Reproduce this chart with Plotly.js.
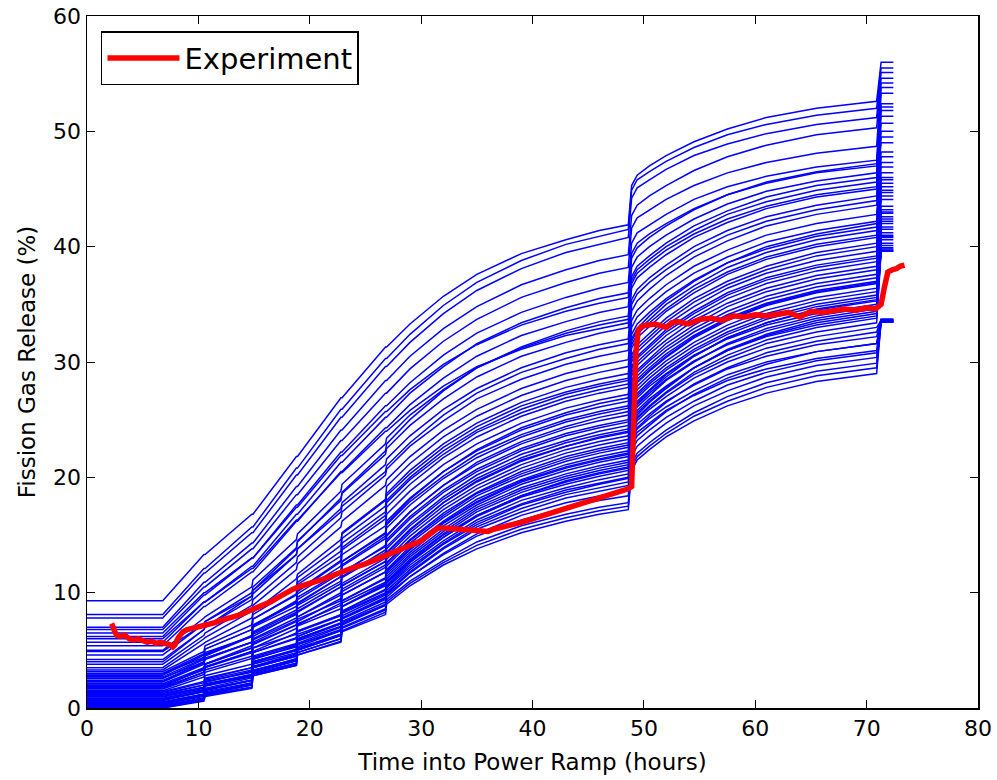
<!DOCTYPE html>
<html>
<head>
<meta charset="utf-8">
<script src="https://cdn.plot.ly/plotly-3.0.1.min.js"></script>
<style>
  html, body { margin: 0; padding: 0; background: #ffffff; }
  #chart { width: 997px; height: 780px; }
</style>
</head>
<body>
<div id="chart"></div>
<script>
// Time grid (hours) shared by the simulated runs
const hours = [0, 6.8, 10.5, 10.6, 14.8, 14.9, 18.8, 18.9, 22.8, 22.9, 26.8, 26.9,
  29, 32, 35, 39, 43, 46, 48.6, 48.9, 49.4, 50.5, 52, 54.5, 57.5, 61, 65.5, 70.9, 71.3, 72.4];

// Simulated fission gas release (%) for each run
const runA = [9.3,9.3,13.3,13.3,16.8,16.8,21.8,21.8,26.9,26.9,31.3,31.3,33.3,35.7,37.6,39.4,40.6,41.4,41.9,45.3,46.2,47.0,47.9,49.1,50.2,51.2,52.0,52.6,56.0,56.0];
const runB = [8.1,8.1,12.1,12.1,15.7,15.7,20.8,20.8,25.9,25.9,30.3,30.3,32.4,34.9,36.9,38.8,40.2,40.9,41.5,44.9,45.8,46.5,47.4,48.6,49.7,50.6,51.4,52.0,55.5,55.5];
const runC = [7.8,7.8,11.7,11.7,15.2,15.2,20.2,20.2,25.2,25.2,29.6,29.6,31.7,34.2,36.2,38.1,39.5,40.2,40.8,44.2,45.1,45.8,46.7,47.9,48.9,49.8,50.6,51.2,55.1,55.1];
const runD = [7.0,7.0,10.9,10.9,14.3,14.3,19.2,19.2,24.1,24.1,28.4,28.4,30.5,32.9,34.8,36.7,38.0,38.8,39.3,42.7,43.6,44.4,45.3,46.6,47.8,48.8,49.7,50.3,54.6,54.6];
const runE = [6.8,6.8,10.5,10.5,13.8,13.8,18.5,18.5,23.2,23.2,27.3,27.3,29.4,31.8,33.7,35.6,36.9,37.7,38.2,41.6,42.5,43.2,44.1,45.3,46.4,47.3,48.1,48.7,54.2,54.2];
const runF = [6.2,6.2,9.8,9.8,13.0,13.0,17.6,17.6,22.2,22.2,26.2,26.2,28.2,30.6,32.5,34.3,35.6,36.4,36.9,40.3,41.2,41.9,42.8,44.1,45.2,46.1,46.9,47.5,53.3,53.3];
const runG = [5.7,5.7,9.2,9.2,12.3,12.3,16.8,16.8,21.3,21.3,25.2,25.2,27.3,29.6,31.6,33.4,34.7,35.5,36.0,39.4,40.3,41.1,42.0,43.3,44.5,45.5,46.4,47.0,52.1,52.1];
const runH = [5.4,5.4,8.8,8.8,11.8,11.8,16.2,16.2,20.5,20.5,24.3,24.3,26.3,28.6,30.5,32.3,33.5,34.3,34.8,38.2,39.1,40.0,41.0,42.4,43.7,44.8,45.7,46.4,53.8,53.8];
const runI = [5.0,5.0,7.8,7.9,10.5,11.1,14.6,15.1,18.8,19.4,22.9,23.4,25.4,27.6,29.5,31.2,32.5,33.2,33.7,37.1,38.0,38.9,40.0,41.4,42.8,43.9,44.9,45.6,51.3,51.3];
const runJ = [4.6,4.6,7.3,7.5,10.0,10.5,13.9,14.5,18.0,18.6,22.0,22.5,24.5,26.8,28.7,30.5,31.7,32.5,33.0,36.4,37.3,38.2,39.3,40.8,42.1,43.3,44.3,45.0,50.7,50.7];
const runK = [4.2,4.2,6.8,7.0,9.4,9.9,13.3,13.8,17.3,17.8,21.1,21.6,23.6,25.9,27.7,29.5,30.8,31.5,32.0,35.4,36.3,37.3,38.4,40.0,41.4,42.6,43.6,44.4,49.5,49.5];
const runL = [3.8,3.8,6.3,6.5,8.9,9.4,12.6,13.1,16.5,17.0,20.2,20.7,22.7,24.9,26.8,28.5,29.8,30.5,31.0,34.4,35.3,36.3,37.5,39.1,40.5,41.8,42.8,43.6,48.2,48.2];
const runM = [3.5,3.5,6.0,6.1,8.4,8.9,12.0,12.5,15.7,16.2,19.3,19.8,21.8,24.1,25.9,27.7,29.0,29.7,30.2,33.6,34.5,35.5,36.7,38.3,39.7,41.0,42.0,42.8,47.3,47.3];
const runN1 = [3.15,3.15,4.9,5.4,7.2,8.1,10.4,11.3,14.1,15.2,18.1,19.2,21.2,23.5,25.3,27.1,28.4,29.1,29.6,33.0,33.9,34.9,36.1,37.7,39.1,40.4,41.4,42.2,46.9,46.9];
const runN2 = [3.0,3.0,4.7,5.1,6.8,7.7,9.8,10.7,13.2,14.3,17.0,18.0,20.0,22.3,24.1,25.9,27.2,27.9,28.4,31.8,32.7,33.7,35.0,36.6,38.2,39.5,40.6,41.4,45.8,45.8];
const runN3 = [2.85,2.85,4.6,5.1,6.8,7.7,9.9,10.9,13.6,14.7,17.5,18.6,20.6,22.9,24.7,26.5,27.8,28.5,29.0,32.4,33.3,34.3,35.5,37.1,38.6,39.8,40.9,41.7,46.4,46.4];
const runN4 = [2.7,2.7,4.3,4.7,6.2,7.1,9.1,9.9,12.3,13.3,15.8,16.8,18.8,21.1,22.9,24.7,26.0,26.7,27.2,30.6,31.5,32.5,33.8,35.5,37.0,38.3,39.5,40.3,45.2,45.2];
const runN5 = [2.55,2.55,4.2,4.6,6.3,7.2,9.2,10.1,12.7,13.7,16.4,17.4,19.4,21.7,23.5,25.3,26.6,27.3,27.8,31.2,32.1,33.1,34.4,36.0,37.6,38.9,40.0,40.8,44.7,44.7];
const runN6 = [2.4,2.4,3.9,4.3,5.7,6.5,8.3,9.1,11.4,12.3,14.7,15.6,17.6,19.9,21.7,23.5,24.8,25.5,26.0,29.4,30.3,31.3,32.6,34.2,35.8,37.1,38.2,39.0,44.1,44.1];
const runN7 = [2.25,2.25,3.8,4.2,5.7,6.6,8.5,9.4,11.7,12.7,15.2,16.2,18.2,20.5,22.3,24.1,25.4,26.1,26.6,30.0,30.9,31.9,33.2,34.8,36.4,37.7,38.8,39.6,43.5,43.5];
const runN8 = [2.1,2.1,3.5,3.8,5.2,5.9,7.6,8.4,10.5,11.3,13.5,14.4,16.4,18.7,20.5,22.3,23.6,24.3,24.8,28.2,29.1,30.1,31.3,32.9,34.4,35.7,36.8,37.6,42.6,42.6];
const runN9 = [1.95,1.95,3.4,3.8,5.2,6.0,7.8,8.6,10.8,11.7,14.1,15.0,17.0,19.3,21.1,22.9,24.2,24.9,25.4,28.8,29.7,30.7,31.9,33.6,35.1,36.4,37.5,38.3,43.2,43.2];
const runN10 = [1.8,1.8,3.1,3.5,4.8,5.5,7.2,7.9,10.0,10.8,13.0,13.8,15.8,18.1,19.9,21.7,23.0,23.7,24.2,27.6,28.5,29.5,30.7,32.3,33.8,35.1,36.2,37.0,42.2,42.2];
const runN11 = [1.65,1.65,2.9,3.3,4.5,5.2,6.9,7.5,9.5,10.3,12.4,13.2,15.2,17.5,19.3,21.1,22.4,23.1,23.6,27.0,27.9,28.9,30.1,31.7,33.2,34.5,35.6,36.4,41.7,41.7];
const runN12 = [1.5,1.5,2.7,3.1,4.3,4.9,6.5,7.2,9.1,9.8,11.8,12.6,14.6,16.9,18.7,20.5,21.8,22.5,23.0,26.4,27.3,28.3,29.5,31.1,32.6,33.9,35.0,35.8,41.2,41.2];
const runN13 = [1.4,1.4,2.3,2.8,3.8,5.2,6.4,7.7,9.3,10.6,12.7,14.0,16.0,18.3,20.2,22.0,23.2,24.0,24.5,27.9,28.8,29.8,31.0,32.6,34.1,35.4,36.5,37.3,40.3,40.3];
const runN14 = [1.25,1.25,2.0,2.4,3.3,4.5,5.6,6.6,8.0,9.1,10.9,12.0,14.0,16.2,18.1,19.8,21.1,21.8,22.3,25.7,26.6,27.6,28.9,30.5,32.1,33.4,34.5,35.3,40.6,40.6];
const runN15 = [1.1,1.1,1.8,2.3,3.1,4.3,5.3,6.4,7.7,8.8,10.6,11.6,13.5,15.8,17.6,19.4,20.6,21.3,21.8,25.2,26.1,27.1,28.4,30.0,31.6,32.9,34.0,34.8,39.6,39.6];
const runN16 = [1.0,1.0,1.8,2.2,3.2,4.4,5.5,6.7,8.1,9.3,11.2,12.3,14.3,16.5,18.4,20.1,21.4,22.1,22.6,26.0,26.9,27.9,29.0,30.6,32.0,33.2,34.2,35.0,42.0,42.0];
const runN17 = [0.85,0.85,1.6,2.0,2.8,4.0,5.0,6.0,7.4,8.4,10.2,11.2,13.1,15.3,17.2,18.9,20.1,20.8,21.3,24.7,25.6,26.6,27.8,29.5,31.0,32.3,33.4,34.2,39.8,39.8];
const runN18 = [0.75,0.75,1.5,1.9,2.7,3.8,4.8,5.8,7.1,8.2,9.9,10.9,12.8,15.0,16.7,18.4,19.6,20.3,20.8,24.2,25.1,26.1,27.3,28.9,30.3,31.6,32.6,33.4,39.6,39.6];
const runN19 = [0.65,0.65,1.4,1.9,2.8,4.0,5.1,6.2,7.7,8.8,10.7,11.8,13.7,16.0,17.8,19.6,20.8,21.5,22.0,25.4,26.3,27.3,28.5,30.1,31.5,32.7,33.8,34.6,40.9,40.9];
const runN20 = [0.55,0.55,1.2,1.6,2.4,3.5,4.5,5.5,6.8,7.8,9.5,10.5,12.4,14.5,16.3,18.0,19.1,19.8,20.3,23.7,24.6,25.5,26.6,28.0,29.4,30.5,31.5,32.2,33.7,33.7];
const runN21 = [0.45,0.45,1.2,1.6,2.4,3.6,4.6,5.6,7.0,8.0,9.8,10.8,12.7,14.8,16.6,18.3,19.4,20.1,20.6,24.0,24.9,25.9,27.0,28.6,30.0,31.2,32.2,33.0,33.6,33.6];
const runN22 = [0.35,0.35,1.0,1.4,2.2,3.3,4.2,5.2,6.4,7.4,9.0,10.0,11.8,13.9,15.7,17.3,18.5,19.1,19.6,23.0,23.9,24.7,25.8,27.1,28.4,29.4,30.3,31.0,33.6,33.6];
const runN23 = [0.25,0.25,0.9,1.3,2.1,3.1,4.1,5.0,6.3,7.2,8.9,9.8,11.4,13.3,14.9,16.3,17.4,18.0,18.4,21.8,22.7,23.6,24.7,26.2,27.5,28.7,29.7,30.4,33.5,33.5];
const runN24 = [0.2,0.2,0.8,1.2,2.0,3.0,3.9,4.8,6.0,6.9,8.5,9.4,11.0,12.8,14.4,15.8,16.8,17.4,17.8,21.2,22.1,23.0,24.1,25.6,27.0,28.2,29.2,29.9,33.5,33.5];
const runN25 = [0.1,0.1,0.7,1.1,1.8,2.8,3.7,4.6,5.7,6.6,8.1,9.0,10.6,12.4,13.8,15.2,16.2,16.8,17.2,20.6,21.5,22.4,23.5,24.9,26.2,27.3,28.3,29.0,33.5,33.5];
const runN26 = [0.05,0.05,0.8,1.2,2.0,3.1,4.1,5.1,6.4,7.5,9.2,10.2,12.0,14.2,15.9,17.6,18.7,19.4,19.9,23.3,24.2,25.1,26.1,27.5,28.9,30.0,30.9,31.6,33.6,33.6];
const runN27 = [0.0,0.0,0.7,1.1,1.8,2.9,3.8,4.8,6.0,7.0,8.6,9.6,11.4,13.4,15.1,16.7,17.8,18.4,18.9,22.3,23.2,24.1,25.2,26.6,28.0,29.1,30.1,30.8,33.5,33.5];
const runN28 = [0.3,0.3,1.1,1.5,2.4,3.6,4.7,5.9,7.3,8.4,10.3,11.4,13.3,15.5,17.4,19.1,20.3,21.0,21.5,24.9,25.8,26.8,27.9,29.5,31.0,32.2,33.2,34.0,39.7,39.7];
const runP1 = [4.9,4.9,7.3,7.5,9.7,10.2,13.3,13.8,17.0,17.5,20.5,21.0,23.0,25.4,27.3,29.1,30.3,31.1,31.6,35.0,35.9,36.9,38.0,39.6,41.0,42.2,43.2,44.0,50.0,50.0];
const runP2 = [4.0,4.0,6.8,7.0,9.7,10.2,13.8,14.4,18.2,18.7,22.3,22.9,25.0,27.5,29.5,31.3,32.7,33.5,34.0,37.4,38.3,39.2,40.3,41.8,43.1,44.3,45.3,46.0,52.4,52.4];
const runP3 = [6.0,6.0,9.2,9.2,12.1,12.1,16.3,16.3,20.4,20.4,24.0,24.0,25.8,27.9,29.6,31.1,32.3,32.9,33.4,36.8,37.7,38.6,39.7,41.1,42.4,43.5,44.5,45.2,49.0,49.0];
const runP4 = [3.3,3.3,5.6,5.7,7.8,8.3,11.2,11.6,14.6,15.1,18.0,18.4,20.3,22.6,24.4,26.2,27.4,28.1,28.6,32.0,32.9,34.0,35.3,37.0,38.6,40.0,41.1,42.0,47.8,47.8];
const runP5 = [2.95,2.95,4.4,4.8,6.2,7.0,8.8,9.6,11.8,12.7,15.1,16.0,18.1,20.5,22.4,24.3,25.6,26.4,26.9,30.3,31.2,32.2,33.5,35.2,36.7,38.0,39.2,40.0,45.5,45.5];
const runP6 = [2.6,2.6,4.0,4.3,5.7,6.4,8.1,8.9,11.0,11.8,14.0,14.9,17.0,19.3,21.3,23.1,24.4,25.2,25.7,29.1,30.0,31.0,32.3,33.9,35.5,36.8,37.9,38.7,42.9,42.9];
const runP7 = [2.3,2.3,4.0,4.5,6.2,7.1,9.3,10.2,12.8,13.9,16.7,17.8,19.8,22.0,23.9,25.6,26.9,27.6,28.1,31.5,32.4,33.4,34.6,36.3,37.8,39.1,40.2,41.0,46.0,46.0];
const runP8 = [2.0,2.0,3.3,3.6,4.9,5.6,7.2,7.9,9.8,10.6,12.7,13.5,15.5,17.8,19.6,21.4,22.7,23.4,23.9,27.3,28.2,29.2,30.4,32.1,33.6,34.9,36.0,36.8,41.5,41.5];
const runP9 = [1.7,1.7,3.1,3.5,4.9,5.7,7.5,8.3,10.5,11.4,13.7,14.6,16.6,18.9,20.7,22.5,23.8,24.5,25.0,28.4,29.3,30.3,31.6,33.2,34.8,36.1,37.2,38.0,44.4,44.4];
const runP10 = [1.35,1.35,2.2,2.6,3.5,4.8,6.0,7.1,8.6,9.8,11.8,12.9,14.9,17.2,19.0,20.8,22.1,22.8,23.3,26.7,27.6,28.6,29.8,31.4,32.9,34.2,35.3,36.1,41.0,41.0];
const runP11 = [1.15,1.15,2.0,2.5,3.5,4.8,6.1,7.3,8.9,10.1,12.2,13.4,15.4,17.8,19.7,21.5,22.7,23.5,24.0,27.4,28.3,29.3,30.5,32.2,33.7,35.0,36.1,36.9,43.0,43.0];
const runP12 = [0.95,0.95,1.7,2.1,2.9,4.0,5.0,6.0,7.3,8.3,10.0,11.0,12.9,15.1,17.0,18.7,19.9,20.6,21.1,24.5,25.4,26.5,27.7,29.5,31.1,32.4,33.6,34.4,40.1,40.1];
const runP13 = [0.7,0.7,1.5,2.0,2.9,4.2,5.4,6.6,8.1,9.3,11.3,12.5,14.5,16.7,18.6,20.3,21.6,22.3,22.8,26.2,27.1,28.1,29.3,30.9,32.4,33.7,34.8,35.6,42.4,42.4];
const runP14 = [0.5,0.5,1.2,1.6,2.4,3.5,4.5,5.5,6.7,7.7,9.4,10.4,12.2,14.3,16.1,17.7,18.9,19.5,20.0,23.4,24.3,25.3,26.5,28.1,29.5,30.8,31.8,32.6,33.7,33.7];
const runP15 = [0.4,0.4,1.2,1.7,2.6,3.9,5.0,6.2,7.7,8.8,10.8,11.9,13.8,16.1,17.9,19.7,20.9,21.6,22.1,25.5,26.4,27.5,28.7,30.5,32.1,33.4,34.6,35.4,40.8,40.8];
const runP16 = [0.15,0.15,0.8,1.2,2.0,3.1,4.1,5.0,6.3,7.3,8.9,9.9,11.7,13.8,15.5,17.0,18.2,18.8,19.3,22.7,23.6,24.5,25.7,27.2,28.6,29.8,30.9,31.6,33.6,33.6];
const runP17 = [0.0,0.0,0.6,1.0,1.7,2.8,3.7,4.6,5.8,6.7,8.3,9.2,10.8,12.6,14.1,15.5,16.5,17.1,17.5,20.9,21.8,22.7,23.8,25.3,26.6,27.8,28.8,29.5,33.5,33.5];
const runP18 = [0.08,0.08,0.8,1.2,2.1,3.2,4.3,5.3,6.7,7.8,9.6,10.6,12.6,14.8,16.7,18.4,19.7,20.4,20.9,24.3,25.2,26.2,27.4,29.1,30.6,31.9,33.0,33.8,39.9,39.9];
const runP19 = [1.85,1.85,3.4,3.8,5.4,6.2,8.2,9.0,11.4,12.4,14.9,15.9,17.9,20.1,22.0,23.7,25.0,25.7,26.2,29.6,30.5,31.5,32.8,34.4,36.0,37.3,38.4,39.2,44.9,44.9];
const runP20 = [6.5,6.5,10.0,10.0,13.0,13.0,17.4,17.4,21.9,21.9,25.7,25.7,27.6,29.8,31.5,33.2,34.4,35.1,35.6,39.0,39.9,40.8,41.8,43.2,44.5,45.6,46.5,47.2,51.8,51.8];

const simulationRuns = [runA, runB, runC, runD, runE, runF, runG, runH, runI, runJ, runK, runL, runM,
  runN1, runN2, runN3, runN4, runN5, runN6, runN7, runN8, runN9, runN10, runN11, runN12, runN13, runN14,
  runN15, runN16, runN17, runN18, runN19, runN20, runN21, runN22, runN23, runN24, runN25, runN26, runN27, runN28,
  runP1, runP2, runP3, runP4, runP5, runP6, runP7, runP8, runP9, runP10, runP11, runP12, runP13, runP14,
  runP15, runP16, runP17, runP18, runP19, runP20];

// Experimental measurement
const expHours = [2.1,2.3,2.5,2.7,3.0,3.4,3.8,4.2,4.6,5.0,5.4,5.8,6.2,6.6,7.0,7.4,7.7,7.9,8.2,8.6,9.0,9.5,10.0,10.5,11.0,11.5,12.0,12.5,13.0,13.5,14.0,14.5,15.0,15.5,16.0,16.5,17.0,17.5,18.0,18.5,19.0,19.5,20.0,21.0,22.0,23.0,24.0,25.0,26.0,27.0,28.0,29.0,30.0,30.5,31.0,31.5,32.0,33.0,34.0,35.0,36.0,36.5,37.0,38.0,39.0,40.0,41.0,42.0,43.0,44.0,45.0,46.0,47.0,48.0,48.6,48.9,49.1,49.3,49.5,49.8,50.3,51.0,52.0,52.5,53.0,54.0,55.0,56.0,57.0,58.0,59.0,60.0,61.0,62.0,63.0,64.0,65.0,66.0,67.0,68.0,69.0,70.0,70.8,71.3,71.6,71.9,72.3,72.7,73.0,73.4];
const expFGR = [7.0,7.1,6.6,6.3,6.2,6.3,6.0,5.9,6.0,5.8,5.7,5.8,5.6,5.7,5.6,5.5,5.3,5.5,6.1,6.6,6.8,6.9,7.0,7.1,7.3,7.4,7.6,7.7,7.9,8.0,8.2,8.4,8.5,8.7,8.9,9.2,9.5,9.8,10.1,10.3,10.5,10.6,10.8,11.1,11.5,11.8,12.2,12.5,12.9,13.2,13.6,14.0,14.5,14.9,15.3,15.6,15.6,15.5,15.5,15.4,15.3,15.5,15.6,15.8,16.1,16.4,16.7,17.0,17.3,17.6,17.9,18.3,18.5,18.8,19.0,19.2,25.0,31.0,32.8,33.1,33.2,33.3,33.0,33.4,33.5,33.3,33.7,33.8,33.6,34.0,33.9,34.1,34.0,34.2,34.3,33.9,34.4,34.3,34.5,34.6,34.5,34.7,34.6,35.0,36.5,37.8,38.0,38.1,38.3,38.4];

const xTicks = [0, 10, 20, 30, 40, 50, 60, 70, 80];
const yTicks = [0, 10, 20, 30, 40, 50, 60];

const traces = simulationRuns.map(function (run) {
  return {
    x: hours, y: run, type: 'scatter', mode: 'lines',
    line: { color: '#0000ff', width: 1.5 },
    showlegend: false, hoverinfo: 'skip'
  };
});
traces.push({
  x: expHours, y: expFGR, type: 'scatter', mode: 'lines', name: 'Experiment',
  line: { color: '#ff0000', width: 5.5 }
});

const fontFamily = 'DejaVu Sans, Verdana, sans-serif';
const axisCommon = {
  showgrid: false, zeroline: false, showline: true, linecolor: '#000000', linewidth: 1.5,
  mirror: 'ticks', ticks: 'inside', ticklen: 8, tickwidth: 1, tickcolor: '#000000',
  tickfont: { family: fontFamily, size: 22, color: '#000000' }
};

const layout = {
  width: 997, height: 780,
  margin: { l: 87, r: 19, t: 16, b: 72 },
  paper_bgcolor: '#ffffff', plot_bgcolor: '#ffffff',
  font: { family: fontFamily, color: '#000000' },
  xaxis: Object.assign({}, axisCommon, {
    range: [0, 80], tickvals: xTicks, ticktext: xTicks.map(String),
    title: { text: 'Time into Power Ramp (hours)', font: { family: fontFamily, size: 23, color: '#000000' }, standoff: 14 }
  }),
  yaxis: Object.assign({}, axisCommon, {
    range: [0, 60], tickvals: yTicks, ticktext: yTicks.map(String),
    title: { text: 'Fission Gas Release (%)', font: { family: fontFamily, size: 23, color: '#000000' }, standoff: 11 }
  }),
  legend: {
    x: 0.0157, y: 0.978, xanchor: 'left', yanchor: 'top',
    bgcolor: '#ffffff', bordercolor: '#000000', borderwidth: 1.5,
    font: { family: fontFamily, size: 29, color: '#000000' },
    itemwidth: 72
  },
  showlegend: true
};

Plotly.newPlot('chart', traces, layout, { displayModeBar: false, staticPlot: true });
</script>
</body>
</html>
